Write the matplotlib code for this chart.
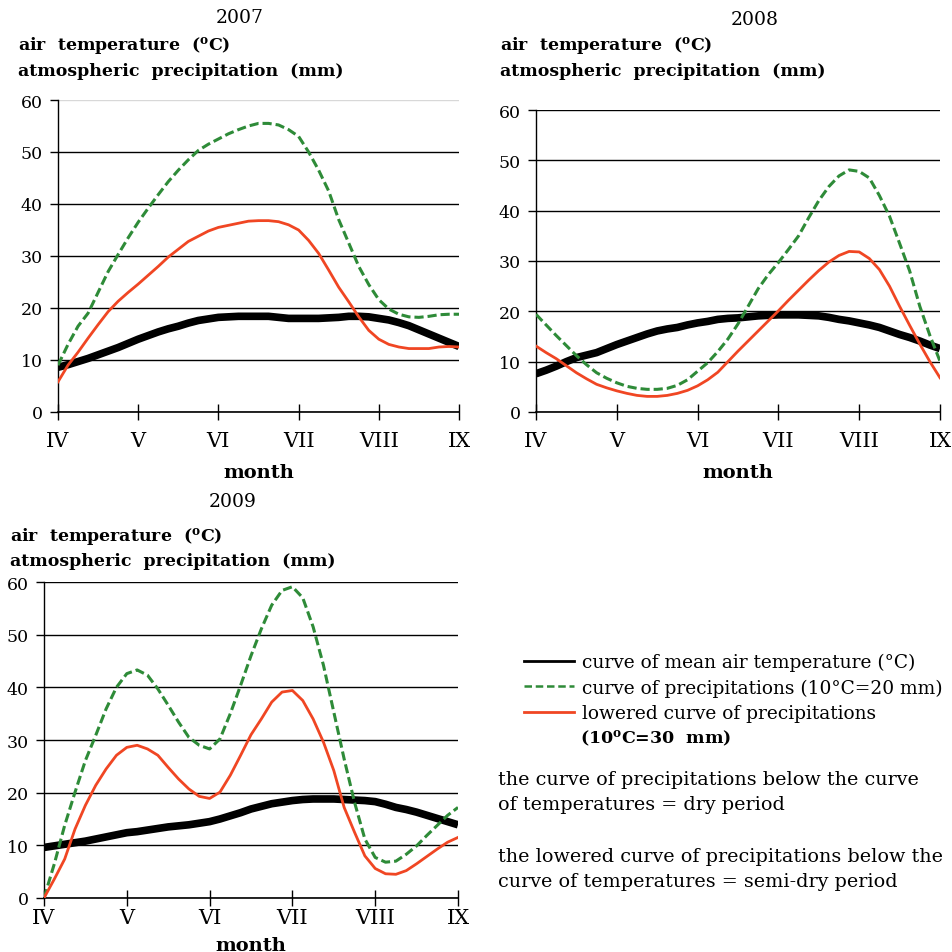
import numpy as np
import matplotlib
matplotlib.use('Agg')
import matplotlib.pyplot as plt
from matplotlib.lines import Line2D

plt.rcParams['font.family'] = ['DejaVu Serif']
plt.rcParams['mathtext.fontset'] = 'dejavuserif'

# readings every eighth of a month, from IV to IX
pos = np.linspace(0, 5, 41)
months = ['IV', 'V', 'VI', 'VII', 'VIII', 'IX']

# 2007
temp_2007 = [8.6, 9.1, 9.7, 10.3, 11.0, 11.7, 12.4, 13.2, 14.0, 14.7, 15.4,
             16.0, 16.5, 17.1, 17.6, 17.9, 18.2, 18.3, 18.4, 18.4, 18.4,
             18.4, 18.2, 18.0, 18.0, 18.0, 18.0, 18.1, 18.2, 18.4, 18.4,
             18.3, 18.0, 17.7, 17.2, 16.6, 15.8, 15.0, 14.2, 13.4, 12.6]
prec_2007 = [9.0, 13.0, 16.5, 19.0, 23.0, 27.0, 30.3, 33.5, 36.5, 39.2, 41.8,
             44.3, 46.5, 48.5, 50.3, 51.5, 52.5, 53.5, 54.3, 55.0, 55.5,
             55.5, 55.2, 54.3, 53.0, 50.0, 46.5, 42.5, 37.0, 32.5, 28.0,
             24.5, 21.6, 19.8, 18.8, 18.3, 18.2, 18.4, 18.7, 18.8, 18.8]
low_2007 = [5.8, 9.0, 11.5, 14.2, 16.8, 19.3, 21.3, 23.0, 24.6, 26.3, 28.0,
            29.8, 31.3, 32.8, 33.8, 34.8, 35.5, 35.9, 36.3, 36.7, 36.8,
            36.8, 36.6, 36.0, 35.0, 33.0, 30.5, 27.3, 24.0, 21.2, 18.3,
            15.7, 14.0, 13.0, 12.5, 12.2, 12.2, 12.2, 12.5, 12.6, 12.5]

# 2008
temp_2008 = [7.6, 8.3, 9.1, 10.0, 10.8, 11.3, 11.8, 12.6, 13.4, 14.1, 14.8,
             15.5, 16.1, 16.5, 16.8, 17.3, 17.7, 18.0, 18.4, 18.6, 18.7,
             18.9, 19.1, 19.2, 19.3, 19.3, 19.3, 19.2, 19.1, 18.8, 18.4,
             18.1, 17.7, 17.3, 16.8, 16.1, 15.4, 14.8, 14.1, 13.3, 12.6]
prec_2008 = [19.4, 17.3, 15.2, 13.2, 11.2, 9.4, 7.8, 6.7, 5.8, 5.1, 4.7,
             4.5, 4.5, 4.7, 5.3, 6.4, 8.1, 9.8, 12.0, 14.5, 17.5,
             21.0, 24.5, 27.3, 29.7, 32.3, 35.0, 38.6, 42.0, 44.8, 46.9,
             48.1, 47.8, 46.5, 43.0, 38.9, 33.5, 28.0, 21.0, 15.2, 10.1]
low_2008 = [13.1, 11.8, 10.6, 9.2, 7.8, 6.6, 5.5, 4.8, 4.2, 3.7, 3.3,
            3.1, 3.1, 3.3, 3.7, 4.3, 5.2, 6.4, 7.9, 10.0, 12.1,
            14.1, 16.1, 18.1, 20.1, 22.2, 24.2, 26.2, 28.1, 29.8, 31.1,
            31.9, 31.8, 30.5, 28.3, 25.0, 21.0, 17.2, 13.5, 10.0, 6.8]

# 2009
temp_2009 = [9.6, 9.9, 10.2, 10.5, 10.8, 11.2, 11.6, 12.0, 12.4, 12.6, 12.9,
             13.2, 13.5, 13.7, 13.9, 14.2, 14.5, 15.0, 15.6, 16.2, 16.9,
             17.4, 17.9, 18.2, 18.5, 18.7, 18.8, 18.8, 18.8, 18.7, 18.6,
             18.5, 18.3, 17.8, 17.2, 16.8, 16.3, 15.7, 15.1, 14.5, 13.9]
prec_2009 = [0.0, 6.5, 13.8, 20.1, 26.1, 30.9, 35.9, 40.0, 42.6, 43.3, 42.3,
             39.7, 36.6, 33.4, 30.5, 29.0, 28.3, 30.2, 35.0, 40.4, 46.0,
             51.1, 55.6, 58.4, 59.1, 57.0, 51.5, 44.2, 35.3, 26.4, 18.2,
             11.2, 7.7, 6.8, 7.0, 8.3, 9.9, 11.9, 13.8, 15.7, 17.2]
low_2009 = [0.0, 3.6, 7.4, 13.1, 17.6, 21.4, 24.5, 27.1, 28.6, 29.0, 28.3,
            27.1, 24.8, 22.6, 20.7, 19.3, 18.9, 20.1, 23.3, 27.1, 31.0,
            34.0, 37.2, 39.1, 39.4, 37.5, 34.0, 29.6, 24.2, 17.2, 12.5,
            8.0, 5.6, 4.6, 4.5, 5.2, 6.5, 7.9, 9.3, 10.6, 11.5]

years = ['2007', '2008', '2009']
green = '#2e8b38'
red = '#f04623'

fig = plt.figure(figsize=(9.53, 9.53), dpi=100)
W = 953.0


def box(l, t, r, b):
    return [l / W, 1 - b / W, (r - l) / W, (b - t) / W]


ax1 = fig.add_axes(box(58, 101, 459, 413))
ax2 = fig.add_axes(box(536, 111, 940, 413))
ax3 = fig.add_axes(box(44, 583, 458, 899))

series = [(ax1, temp_2007, prec_2007, low_2007, 7.4, 9.8),
          (ax2, temp_2008, prec_2008, low_2008, 7.4, 9.8),
          (ax3, temp_2009, prec_2009, low_2009, 1.0, 6.5)]

for ax, t, p, lo, xpad, lpad in series:
    ax.plot(pos, t, color='black', lw=5.5, solid_capstyle='butt', zorder=3)
    ax.plot(pos, p, color=green, lw=2.2, ls=(0, (3, 1.3)), zorder=4)
    ax.plot(pos, lo, color=red, lw=2.0, zorder=5)
    ax.set_xlim(0, 5)
    ax.set_ylim(0, 60)
    ax.set_yticks(range(0, 61, 10))
    ax.set_xticks(range(6))
    ax.set_xticklabels(months, fontsize=15)
    ax.tick_params(axis='y', direction='out', length=6, width=1, labelsize=12.5, pad=5)
    ax.tick_params(axis='x', direction='inout', length=12, width=1, pad=xpad)
    ax.grid(axis='y', color='black', lw=1)
    for s in ['top', 'right']:
        ax.spines[s].set_visible(False)
    ax.spines['left'].set_linewidth(1)
    ax.spines['bottom'].set_linewidth(1.2)
    ax.set_axisbelow(True)
    ax.set_xlabel('month', fontsize=14, fontweight='bold', labelpad=lpad)

ax1.get_ygridlines()[-1].set_color('#d8d8d8')

# titles and axis captions
head = [(240, 18, 18, 46, 72), (755, 20, 500, 46, 72), (233, 502, 10, 537, 562)]
for yr, (tx, ty, hx, hy1, hy2) in zip(years, head):
    fig.text(tx / W, 1 - ty / W, yr, fontsize=13.5, ha='center', va='center')
    fig.text(hx / W, 1 - hy1 / W, r'air  temperature  ($^{\mathbf{o}}$C)', fontsize=12.5,
             fontweight='bold', ha='left', va='center')
    fig.text(hx / W, 1 - hy2 / W, 'atmospheric  precipitation  (mm)', fontsize=12.5,
             fontweight='bold', ha='left', va='center')

# legend
handles = [Line2D([], [], color='black', lw=2),
           Line2D([], [], color=green, lw=1.8, ls=(0, (3, 1.5))),
           Line2D([], [], color=red, lw=2)]
labels = ['curve of mean air temperature (°C)',
          'curve of precipitations (10°C=20 mm)',
          'lowered curve of precipitations']
fig.legend(handles, labels, loc='upper left', bbox_to_anchor=(524 / W, 1 - 654 / W),
           frameon=False, fontsize=13.4, handlelength=2.7, handletextpad=0.42,
           labelspacing=0.39, borderpad=0, borderaxespad=0)
fig.text(580 / W, 1 - 738 / W, r'(10$^{\mathbf{o}}$C=30  mm)', fontsize=12.5,
         fontweight='bold', ha='left', va='center')

notes = [(780, 'the curve of precipitations below the curve'),
         (805, 'of temperatures = dry period'),
         (857, 'the lowered curve of precipitations below the'),
         (882, 'curve of temperatures = semi-dry period')]
for y, s in notes:
    fig.text(498 / W, 1 - y / W, s, fontsize=13.8, ha='left', va='center')

fig.savefig('out.png', dpi=100)
